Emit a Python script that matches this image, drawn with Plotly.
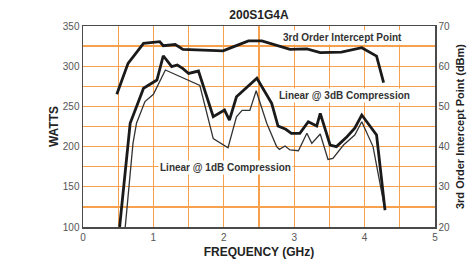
import plotly.graph_objects as go

# ---- data ----
freq_ip3 = [0.48, 0.64, 0.86, 1.09, 1.14, 1.31, 1.42, 1.99, 2.16, 2.35, 2.54, 2.94, 3.18, 3.37, 3.67, 3.96, 4.17, 4.27]
ip3_dbm = [53.0, 60.7, 65.7, 66.1, 65.1, 65.4, 64.2, 63.8, 65.0, 66.3, 66.3, 64.2, 64.3, 63.4, 63.5, 64.6, 62.5, 55.9]

freq_3db = [0.52, 0.67, 0.86, 1.05, 1.14, 1.26, 1.34, 1.42, 1.50, 1.64, 1.85, 2.01, 2.08, 2.18, 2.47, 2.68,
            2.77, 2.88, 2.96, 3.08, 3.20, 3.32, 3.37, 3.51, 3.60, 3.75, 3.86, 3.96, 4.17, 4.29]
watts_3db = [100, 229, 272.5, 282.8, 313, 299.4, 301.5, 297, 291, 294, 237.2, 245.5, 233, 262, 285, 253.8,
             225.6, 221.5, 216.5, 216.5, 231, 225.6, 241.4, 202, 200, 212.3, 222.8, 239.3, 214.4, 121]

freq_1db = [0.60, 0.71, 0.76, 0.88, 1.00, 1.09, 1.17, 1.66, 1.85, 2.06, 2.18, 2.26, 2.37, 2.46, 2.61, 2.75,
            2.79, 2.87, 2.94, 3.06, 3.18, 3.25, 3.37, 3.48, 3.55, 3.70, 3.86, 3.96, 4.12, 4.29]
watts_1db = [100, 204, 229, 256, 265, 280.7, 295.3, 276, 210, 198.6, 237, 245, 245, 269.5, 229, 200,
             196.6, 200.7, 195.8, 194.9, 216.5, 204, 215.7, 184, 185.4, 202, 214.4, 231, 200, 121]

x_ticks = [0, 1, 2, 3, 4, 5]
y_left_ticks = [100, 150, 200, 250, 300, 350]
y_right_ticks = [20, 30, 40, 50, 60, 70]

title_text = "200S1G4A"
x_title = "FREQUENCY (GHz)"
y_title = "WATTS"
y2_title = "3rd Order Intercept Point (dBm)"
labels = ["3rd Order Intercept Point", "Linear @ 3dB Compression", "Linear @ 1dB Compression"]

GRID = "#F7A14F"
AX = "#4a4a4a"
TICK = "#555555"
FONT = "Liberation Sans, Arial, sans-serif"

fig = go.Figure()
fig.add_trace(go.Scatter(x=freq_1db, y=watts_1db, mode="lines",
                         line=dict(color="#333333", width=1.3), hoverinfo="skip"))
fig.add_trace(go.Scatter(x=freq_3db, y=watts_3db, mode="lines",
                         line=dict(color="#1a1a1a", width=2.8), hoverinfo="skip"))
fig.add_trace(go.Scatter(x=freq_ip3, y=ip3_dbm, mode="lines", yaxis="y2",
                         line=dict(color="#1a1a1a", width=2.8), hoverinfo="skip"))

fig.update_layout(
    width=472, height=262,
    margin=dict(l=83, r=37, t=26, b=35, autoexpand=False),
    paper_bgcolor="white", plot_bgcolor="white",
    showlegend=False,
    font=dict(family=FONT, color="#222222"),
    title=dict(text="<b>" + title_text + "</b>", x=0.5, xref="paper", xanchor="center",
               y=1 - 15 / 262, yref="container", yanchor="middle",
               font=dict(size=12, color="#222222", family=FONT)),
    xaxis=dict(range=[0, 5], tickvals=x_ticks, showgrid=True, gridcolor=GRID, gridwidth=1.3,
               minor=dict(dtick=0.5, tick0=0, showgrid=True, gridcolor=GRID, gridwidth=1.3),
               showline=True, linecolor=AX, linewidth=1.5, mirror=True, zeroline=False,
               ticks="", tickfont=dict(size=10, color=TICK), automargin=False,
               title=dict(text="<b>" + x_title + "</b>", font=dict(size=12, color="#222222"), standoff=6)),
    yaxis=dict(range=[100, 350], tickvals=y_left_ticks, showgrid=True, gridcolor=GRID, gridwidth=1.3,
               minor=dict(dtick=25, tick0=100, showgrid=True, gridcolor=GRID, gridwidth=1.3),
               showline=True, linecolor=AX, linewidth=1.5, mirror=True, zeroline=False,
               ticks="", tickfont=dict(size=10, color=TICK), automargin=False,
               title=dict(text="<b>" + y_title + "</b>", font=dict(size=12, color="#222222"), standoff=1)),
    yaxis2=dict(range=[20, 70], tickvals=y_right_ticks, overlaying="y", side="right",
                showgrid=False, zeroline=False, showline=True, linecolor=AX, linewidth=1.5,
                ticks="", tickfont=dict(size=10, color=TICK), automargin=False,
                title=dict(text="<b>" + y2_title + "</b>", font=dict(size=11, color="#222222"), standoff=7)),
)

ann_pos = [(3.686, 335.1), (3.72, 263.3), (2.017, 174.3)]
for txt, (ax_, ay_) in zip(labels, ann_pos):
    fig.add_annotation(x=ax_, y=ay_, xref="x", yref="y", text="<b>" + txt + "</b>", showarrow=False,
                       font=dict(size=10, color="#333333", family=FONT),
                       bgcolor="white", borderpad=1)

fig.write_html("out.html", config={"displayModeBar": False, "staticPlot": True},
               post_script="document.body.style.margin='0';document.body.style.overflow='hidden';")
